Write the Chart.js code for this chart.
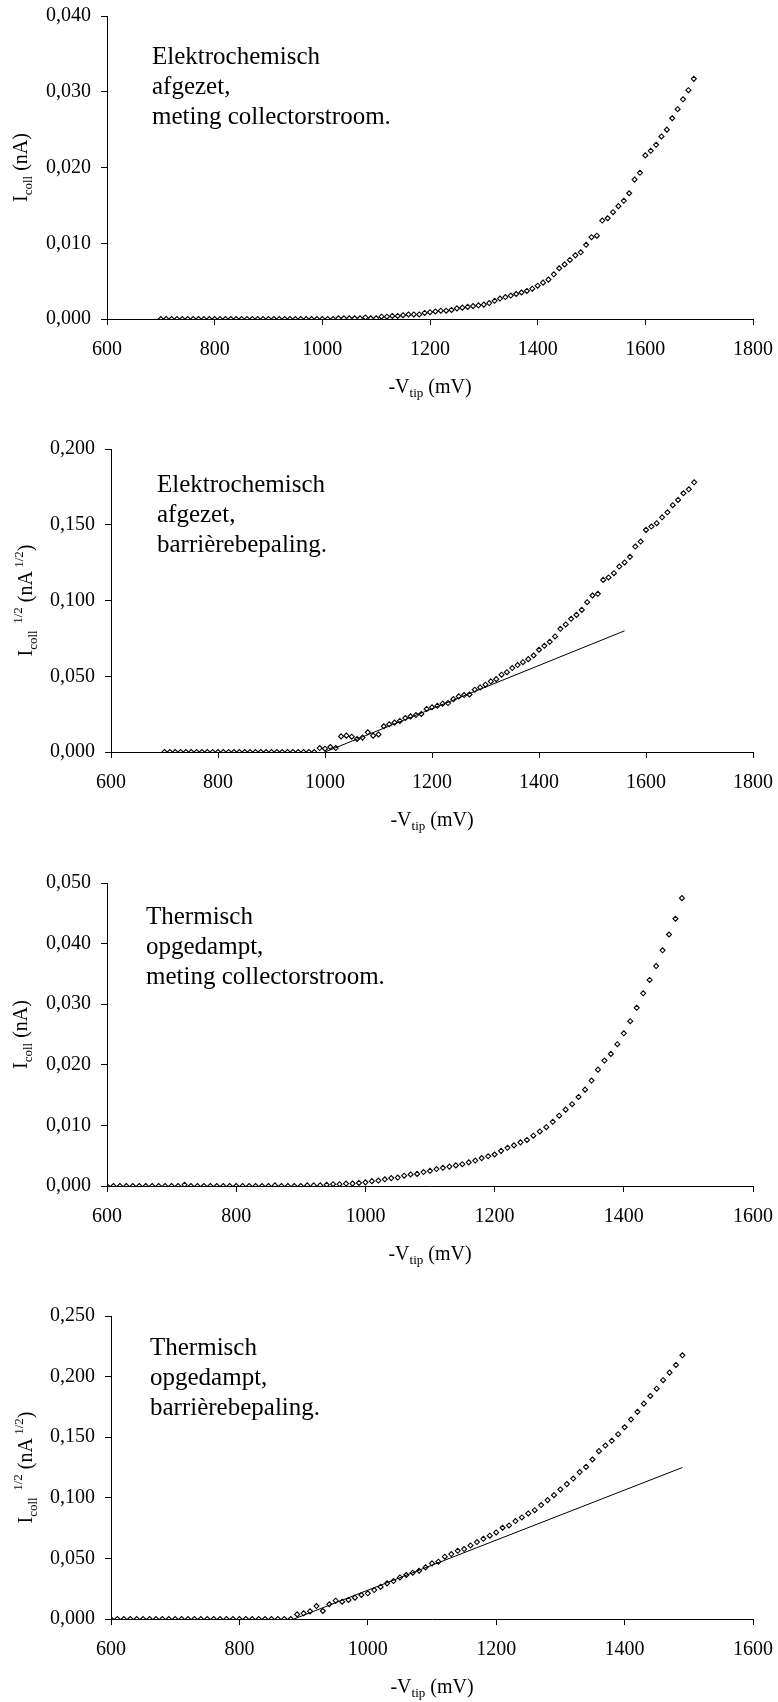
<!DOCTYPE html>
<html>
<head>
<meta charset="utf-8">
<script src="https://cdn.jsdelivr.net/npm/chart.js@4.4.0/dist/chart.umd.min.js"></script>
<style>
  html, body { margin: 0; padding: 0; background: #fff; overflow: hidden; }
  .panel { position: absolute; left: 0; width: 778px; height: 400px; }
</style>
</head>
<body>
<div class="panel" style="top:0px"><canvas id="c1" width="778" height="400"></canvas></div>
<div class="panel" style="top:433px"><canvas id="c2" width="778" height="400"></canvas></div>
<div class="panel" style="top:867px"><canvas id="c3" width="778" height="400"></canvas></div>
<div class="panel" style="top:1300px"><canvas id="c4" width="778" height="400"></canvas></div>
<script>
// Tip voltage sweeps (mV)
const voltsElektro = [
  700, 710, 720, 730, 740, 750, 760, 770, 780, 790,
  800, 810, 820, 830, 840, 850, 860, 870, 880, 890,
  900, 910, 920, 930, 940, 950, 960, 970, 980, 990,
  1000, 1010, 1020, 1030, 1040, 1050, 1060, 1070, 1080, 1090,
  1100, 1110, 1120, 1130, 1140, 1150, 1160, 1170, 1180, 1190,
  1200, 1210, 1220, 1230, 1240, 1250, 1260, 1270, 1280, 1290,
  1300, 1310, 1320, 1330, 1340, 1350, 1360, 1370, 1380, 1390,
  1400, 1410, 1420, 1430, 1440, 1450, 1460, 1470, 1480, 1490,
  1500, 1510, 1520, 1530, 1540, 1550, 1560, 1570, 1580, 1590,
  1600, 1610, 1620, 1630, 1640, 1650, 1660, 1670, 1680, 1690
];
const voltsThermisch = [
  600, 610, 620, 630, 640, 650, 660, 670, 680, 690,
  700, 710, 720, 730, 740, 750, 760, 770, 780, 790,
  800, 810, 820, 830, 840, 850, 860, 870, 880, 890,
  900, 910, 920, 930, 940, 950, 960, 970, 980, 990,
  1000, 1010, 1020, 1030, 1040, 1050, 1060, 1070, 1080, 1090,
  1100, 1110, 1120, 1130, 1140, 1150, 1160, 1170, 1180, 1190,
  1200, 1210, 1220, 1230, 1240, 1250, 1260, 1270, 1280, 1290,
  1300, 1310, 1320, 1330, 1340, 1350, 1360, 1370, 1380, 1390,
  1400, 1410, 1420, 1430, 1440, 1450, 1460, 1470, 1480, 1490
];

// Electrochemically deposited: collector current (nA)
const icollElektro = [
  0, 0, 0, 0, 0, 0, 0, 0, 0, 0,
  0, 0, 0, 0, 0, 0, 0, 0, 0, 0,
  0, 0, 0, 0, 0, 0, 0, 0, 0, 0,
  0.0000, 0.0000, 0.0000, 0.0001, 0.0001, 0.0001, 0.0001, 0.0001, 0.0002, 0.0001,
  0.0001, 0.0003, 0.0003, 0.0004, 0.0004, 0.0005, 0.0006, 0.0006, 0.0006, 0.0008,
  0.0009, 0.0010, 0.0011, 0.0011, 0.0012, 0.0014, 0.0015, 0.0016, 0.0017, 0.0018,
  0.0019, 0.0021, 0.0024, 0.0027, 0.0029, 0.0031, 0.0033, 0.0035, 0.0037, 0.0040,
  0.0044, 0.0048, 0.0052, 0.0059, 0.0067, 0.0072, 0.0078, 0.0084, 0.0088, 0.0098,
  0.0108, 0.0110, 0.0130, 0.0133, 0.0141, 0.0149, 0.0156, 0.0166, 0.0184, 0.0193,
  0.0216, 0.0222, 0.0230, 0.0241, 0.0250, 0.0265, 0.0277, 0.0290, 0.0302, 0.0317
];
// Electrochemically deposited: square root of collector current (nA^1/2)
const sqrtElektro = [
  0, 0, 0, 0, 0, 0, 0, 0, 0, 0,
  0, 0, 0, 0, 0, 0, 0, 0, 0, 0,
  0, 0, 0, 0, 0, 0, 0, 0, 0, 0.0026,
  0.0022, 0.0033, 0.0026, 0.0103, 0.0108, 0.0101, 0.0086, 0.0095, 0.0130, 0.0108,
  0.0116, 0.0170, 0.0183, 0.0194, 0.0205, 0.0224, 0.0235, 0.0244, 0.0251, 0.0284,
  0.0295, 0.0305, 0.0319, 0.0323, 0.0349, 0.0367, 0.0376, 0.0380, 0.0411, 0.0426,
  0.0444, 0.0466, 0.0481, 0.0510, 0.0527, 0.0554, 0.0574, 0.0593, 0.0613, 0.0637,
  0.0675, 0.0701, 0.0727, 0.0763, 0.0813, 0.0842, 0.0879, 0.0905, 0.0938, 0.0989,
  0.1033, 0.1044, 0.1136, 0.1152, 0.1180, 0.1224, 0.1251, 0.1288, 0.1356, 0.1389,
  0.1466, 0.1488, 0.1510, 0.1549, 0.1582, 0.1629, 0.1664, 0.1708, 0.1734, 0.1780
];
// Thermally evaporated: collector current (nA)
const icollThermisch = [
  0, 0, 0, 0, 0, 0, 0, 0, 0, 0,
  0, 0, 0.0002, 0, 0, 0, 0, 0, 0, 0,
  0, 0, 0, 0, 0, 0, 0.0001, 0, 0, 0,
  0, 0.0001, 0.0001, 0.0001, 0.0002, 0.0003, 0.0003, 0.0004, 0.0004, 0.0005,
  0.0006, 0.0008, 0.0009, 0.0011, 0.0013, 0.0014, 0.0017, 0.0019, 0.0020, 0.0023,
  0.0025, 0.0028, 0.0030, 0.0032, 0.0034, 0.0036, 0.0039, 0.0042, 0.0046, 0.0049,
  0.0052, 0.0058, 0.0063, 0.0067, 0.0072, 0.0076, 0.0083, 0.0090, 0.0097, 0.0106,
  0.0116, 0.0126, 0.0135, 0.0147, 0.0159, 0.0174, 0.0192, 0.0207, 0.0218, 0.0234,
  0.0252, 0.0272, 0.0294, 0.0318, 0.0340, 0.0363, 0.0389, 0.0415, 0.0441, 0.0475
];
// Thermally evaporated: square root of collector current (nA^1/2)
const sqrtThermisch = [
  0, 0, 0, 0, 0, 0, 0, 0, 0, 0,
  0, 0, 0, 0, 0, 0, 0, 0, 0, 0,
  0, 0, 0, 0, 0, 0, 0, 0, 0, 0.0038,
  0.0047, 0.0063, 0.0107, 0.0066, 0.0121, 0.0151, 0.0143, 0.0157, 0.0176, 0.0198,
  0.0212, 0.0239, 0.0265, 0.0294, 0.0313, 0.0343, 0.0363, 0.0382, 0.0398, 0.0426,
  0.0459, 0.0473, 0.0514, 0.0536, 0.0563, 0.0577, 0.0607, 0.0635, 0.0662, 0.0687,
  0.0714, 0.0753, 0.0772, 0.0808, 0.0838, 0.0871, 0.0898, 0.0940, 0.0981, 0.1022,
  0.1069, 0.1113, 0.1159, 0.1212, 0.1255, 0.1316, 0.1385, 0.1431, 0.1470, 0.1525,
  0.1582, 0.1646, 0.1709, 0.1777, 0.1840, 0.1900, 0.1970, 0.2033, 0.2096, 0.2176
];

// Linear fits used for the barrier determination (end points)
const fitElektroV = [1000, 1560];
const fitElektroY = [0.000, 0.080];
const fitThermischV = [885, 1490];
const fitThermischY = [0.000, 0.125];

// Axis ranges
const xRangeElektro = [600, 1800];
const xRangeThermisch = [600, 1600];
const xStep = 200;
const yMaxIcollElektro = 0.040, yStepIcollElektro = 0.010;
const yMaxSqrtElektro = 0.200, yStepSqrtElektro = 0.050;
const yMaxIcollThermisch = 0.050, yStepIcollThermisch = 0.010;
const yMaxSqrtThermisch = 0.250, yStepSqrtThermisch = 0.050;

// Panel annotations
const noteElektroIcoll = ['Elektrochemisch', 'afgezet,', 'meting collectorstroom.'];
const noteElektroSqrt = ['Elektrochemisch', 'afgezet,', 'barrièrebepaling.'];
const noteThermIcoll = ['Thermisch', 'opgedampt,', 'meting collectorstroom.'];
const noteThermSqrt = ['Thermisch', 'opgedampt,', 'barrièrebepaling.'];

// Axis titles as runs of text: [text, size, baseline shift]
const xTitleRuns = [['-V', 20, 0], ['tip', 13, 4], [' (mV)', 20, 0]];
const yTitleIcollRuns = [['I', 20, 0], ['coll', 13, 5], [' (nA)', 20, 0]];
const yTitleSqrtRuns = [['I', 20, 0], ['coll', 13, 5], ['  ', 13, 0], ['1/2', 13, -10], [' (nA', 20, 0], [' 1/2', 13, -9], [')', 20, 0]];

const FONT = "'Liberation Serif', 'Times New Roman', Times, serif";

function toPoints(xs, ys) {
  return xs.map((x, i) => ({ x: x, y: ys[i] }));
}

function drawRuns(ctx, runs, x, y) {
  let total = 0;
  const widths = runs.map(r => {
    ctx.font = r[1] + 'px ' + FONT;
    const w = ctx.measureText(r[0]).width;
    total += w;
    return w;
  });
  let cx = x - total / 2;
  ctx.textAlign = 'left';
  ctx.textBaseline = 'alphabetic';
  runs.forEach((r, i) => {
    ctx.font = r[1] + 'px ' + FONT;
    ctx.fillText(r[0], cx, y + r[2]);
    cx += widths[i];
  });
}

// Draws axis titles (with sub/superscripts) and the panel note
function textPlugin(cfg) {
  return {
    id: 'panelText',
    afterDraw(chart) {
      const ctx = chart.ctx;
      const a = chart.chartArea;
      ctx.save();
      ctx.fillStyle = '#000';
      drawRuns(ctx, xTitleRuns, (a.left + a.right) / 2, a.bottom + 74);
      ctx.save();
      ctx.translate(cfg.yTitleX, (a.top + a.bottom) / 2);
      ctx.rotate(-Math.PI / 2);
      drawRuns(ctx, cfg.yTitle, 0, 0);
      ctx.restore();
      ctx.font = '25px ' + FONT;
      ctx.textAlign = 'left';
      ctx.textBaseline = 'alphabetic';
      cfg.note.forEach((line, i) => {
        ctx.fillText(line, a.left + cfg.noteDx, a.top + cfg.noteDy + i * 30);
      });
      ctx.restore();
    }
  };
}

function makeChart(id, cfg) {
  const datasets = [{
    data: toPoints(cfg.xs, cfg.ys),
    pointStyle: 'rectRot',
    pointRadius: 2.5,
    pointBorderWidth: 1.1,
    pointBorderColor: '#000',
    pointBackgroundColor: 'rgba(255,255,255,0)',
    showLine: false
  }];
  if (cfg.fitX) {
    datasets.push({
      data: toPoints(cfg.fitX, cfg.fitY),
      showLine: true,
      borderColor: '#000',
      borderWidth: 1,
      pointRadius: 0,
      fill: false
    });
  }
  const axisGrid = { drawOnChartArea: false, drawTicks: true, tickLength: 6, color: '#000', lineWidth: 1 };
  return new Chart(document.getElementById(id), {
    type: 'scatter',
    data: { datasets: datasets },
    options: {
      responsive: false,
      animation: false,
      layout: { padding: { top: 16, right: 25, left: 0, bottom: 0 } },
      plugins: { legend: { display: false }, tooltip: { enabled: false } },
      scales: {
        x: {
          type: 'linear',
          min: cfg.xRange[0], max: cfg.xRange[1],
          grid: axisGrid,
          border: { display: true, color: '#000', width: 1 },
          ticks: {
            stepSize: xStep, padding: 13, color: '#000',
            font: { family: FONT, size: 20 },
            maxRotation: 0,
            callback: v => String(v)
          },
          afterFit: s => { s.height = 81; s.paddingLeft = 0; s.paddingRight = 0; }
        },
        y: {
          type: 'linear',
          min: 0, max: cfg.yMax,
          grid: axisGrid,
          border: { display: true, color: '#000', width: 1 },
          ticks: {
            stepSize: cfg.yStep, padding: 10, color: '#000',
            font: { family: FONT, size: 20 },
            callback: v => v.toFixed(3).replace('.', ',')
          },
          afterFit: s => { s.width = cfg.axisLeft; s.paddingTop = 0; s.paddingBottom = 0; }
        }
      }
    },
    plugins: [textPlugin(cfg)]
  });
}

makeChart('c1', {
  xs: voltsElektro, ys: icollElektro, xRange: xRangeElektro,
  yMax: yMaxIcollElektro, yStep: yStepIcollElektro, axisLeft: 107,
  yTitle: yTitleIcollRuns, yTitleX: 27,
  note: noteElektroIcoll, noteDx: 45, noteDy: 48
});
makeChart('c2', {
  xs: voltsElektro, ys: sqrtElektro, xRange: xRangeElektro,
  yMax: yMaxSqrtElektro, yStep: yStepSqrtElektro, axisLeft: 111,
  fitX: fitElektroV, fitY: fitElektroY,
  yTitle: yTitleSqrtRuns, yTitleX: 32,
  note: noteElektroSqrt, noteDx: 46, noteDy: 43
});
makeChart('c3', {
  xs: voltsThermisch, ys: icollThermisch, xRange: xRangeThermisch,
  yMax: yMaxIcollThermisch, yStep: yStepIcollThermisch, axisLeft: 107,
  yTitle: yTitleIcollRuns, yTitleX: 27,
  note: noteThermIcoll, noteDx: 39, noteDy: 41
});
makeChart('c4', {
  xs: voltsThermisch, ys: sqrtThermisch, xRange: xRangeThermisch,
  yMax: yMaxSqrtThermisch, yStep: yStepSqrtThermisch, axisLeft: 111,
  fitX: fitThermischV, fitY: fitThermischY,
  yTitle: yTitleSqrtRuns, yTitleX: 32,
  note: noteThermSqrt, noteDx: 39, noteDy: 39
});
</script>
</body>
</html>
